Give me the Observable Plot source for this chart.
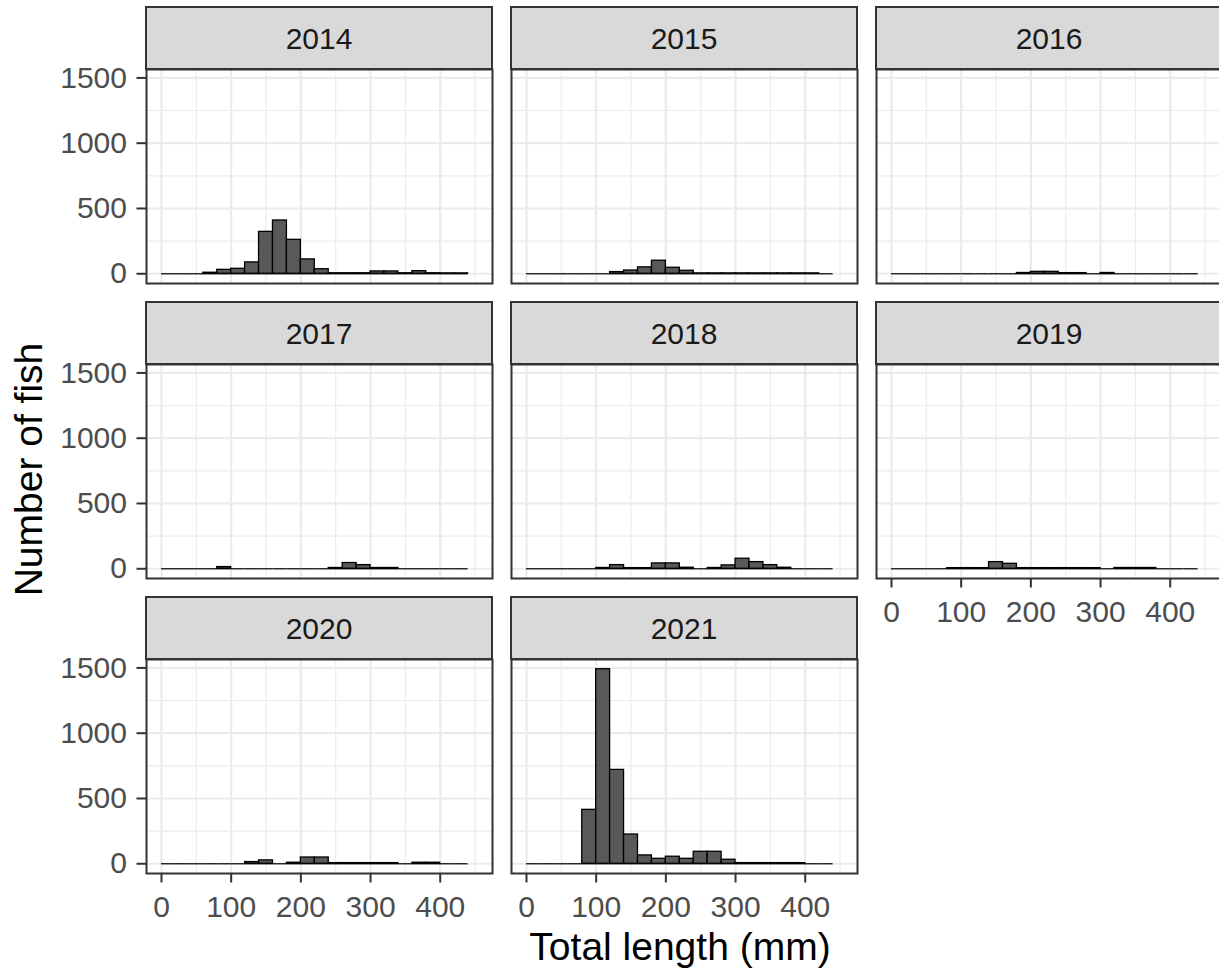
<!DOCTYPE html>
<html>
<head>
<meta charset="utf-8">
<script src="https://cdn.jsdelivr.net/npm/d3@7"></script>
<script src="https://cdn.jsdelivr.net/npm/@observablehq/plot@0.6"></script>
<style>
  html, body { margin: 0; padding: 0; background: #ffffff; overflow: hidden; }
  #chart { position: relative; width: 1219px; height: 974px; overflow: hidden; font-family: "Liberation Sans", Arial, sans-serif; }
  .strip { position: absolute; box-sizing: border-box; background: #D9D9D9; border: 2px solid #333333;
           display: flex; align-items: center; justify-content: center; font-size: 30px; color: #1A1A1A; padding-top: 2px; }
  .title { position: absolute; font-size: 39px; line-height: 39px; color: #000000; white-space: nowrap; text-align: center; }
</style>
</head>
<body>
<div id="chart"></div>
<script>
// ---- data ----
const years = ["2014", "2015", "2016", "2017", "2018", "2019", "2020", "2021"];
const binEdges = [0, 20, 40, 60, 80, 100, 120, 140, 160, 180, 200, 220, 240, 260, 280, 300, 320, 340, 360, 380, 400, 420, 440];
const counts2014 = [0, 0, 0, 8, 30, 38, 87, 321, 408, 260, 110, 35, 4, 4, 4, 18, 18, 4, 20, 4, 3, 3];
const counts2015 = [0, 0, 0, 0, 0, 0, 13, 25, 49, 100, 46, 23, 3, 3, 3, 3, 3, 3, 3, 3, 3, 0];
const counts2016 = [0, 0, 0, 0, 0, 0, 0, 0, 0, 6, 15, 15, 5, 5, 0, 6, 0, 0, 0, 0, 0, 0];
const counts2017 = [0, 0, 0, 0, 13, 0, 0, 0, 0, 0, 0, 0, 6, 44, 28, 6, 6, 0, 0, 0, 0, 0];
const counts2018 = [0, 0, 0, 0, 0, 6, 28, 5, 5, 41, 41, 8, 0, 6, 26, 77, 51, 28, 8, 0, 0, 0];
const counts2019 = [0, 0, 0, 0, 5, 5, 5, 51, 38, 5, 5, 5, 5, 5, 5, 0, 6, 6, 6, 0, 0, 0];
const counts2020 = [0, 0, 0, 0, 0, 0, 13, 26, 0, 8, 48, 48, 5, 5, 5, 5, 5, 0, 8, 8, 0, 0];
const counts2021 = [0, 0, 0, 0, 413, 1490, 719, 224, 64, 38, 54, 38, 92, 92, 31, 5, 5, 5, 5, 5, 0, 0];
const countsByYear = [counts2014, counts2015, counts2016, counts2017, counts2018, counts2019, counts2020, counts2021];

const xTicks = [0, 100, 200, 300, 400];
const xMinor = [50, 150, 250, 350, 450];
const yTicks = [0, 500, 1000, 1500];
const yMinor = [250, 750, 1250];
const xDomain = [-21.5, 475];
const yDomain = [-74.5, 1564.5];

const xTitle = "Total length (mm)";
const yTitle = "Number of fish";

// ---- layout ----
const colLeft = [146, 511, 876];
const rowTop = [7, 302, 597];
const PW = 346, PH = 214, SH = 62;
const ML = 80, MR = 3, MT = 3, MB = 60;
const FONT = '"Liberation Sans", Arial, sans-serif';

const chart = document.getElementById("chart");

function panel(counts, showX, showY) {
  const bins = counts.map((n, i) => ({x1: binEdges[i], x2: binEdges[i + 1], n}));
  const tickStyle = {tickSize: 9.5, fontSize: 30, stroke: "#333333", fill: "#4D4D4D", strokeWidth: 2,
                     tickFormat: d => `${d}`, label: null};
  return Plot.plot({
    width: ML + PW + MR,
    height: MT + PH + MB,
    marginLeft: ML, marginRight: MR, marginTop: MT, marginBottom: MB,
    x: {domain: xDomain, axis: null},
    y: {domain: yDomain, axis: null},
    style: {fontFamily: FONT, background: "transparent", overflow: "visible"},
    marks: [
      Plot.ruleX(xMinor, {stroke: "#EBEBEB", strokeWidth: 1.1}),
      Plot.ruleY(yMinor, {stroke: "#EBEBEB", strokeWidth: 1.1}),
      Plot.ruleX(xTicks, {stroke: "#EBEBEB", strokeWidth: 2.2}),
      Plot.ruleY(yTicks, {stroke: "#EBEBEB", strokeWidth: 2.2}),
      Plot.ruleY(bins, {x1: "x1", x2: "x2", y: () => 0, stroke: "#000000", strokeWidth: 1.2}),
      Plot.rect(bins.filter(d => d.n > 0), {x1: "x1", x2: "x2", y1: () => 0, y2: "n",
        fill: "#595959", stroke: "#000000", strokeWidth: 1.3}),
      Plot.frame({stroke: "#333333", strokeWidth: 2}),
      showY ? Plot.axisY(yTicks, {...tickStyle, tickPadding: 10}) : null,
      showX ? Plot.axisX(xTicks, {...tickStyle, tickPadding: 13}) : null
    ]
  });
}

countsByYear.forEach((counts, i) => {
  const col = i % 3, row = Math.floor(i / 3);
  const below = i + 3 < years.length;
  const left = colLeft[col], top = rowTop[row];
  // strip
  const strip = document.createElement("div");
  strip.className = "strip";
  strip.style.left = (left - 1) + "px";
  strip.style.top = (top - 1) + "px";
  strip.style.width = (PW + 2) + "px";
  strip.style.height = (SH + 2) + "px";
  strip.textContent = years[i];
  chart.appendChild(strip);
  // panel
  const svg = panel(counts, !below, col === 0);
  svg.style.position = "absolute";
  svg.style.left = (left - ML) + "px";
  svg.style.top = (top + SH - MT) + "px";
  svg.style.maxWidth = "none";
  chart.appendChild(svg);
});

// axis titles
const xt = document.createElement("div");
xt.className = "title";
xt.textContent = xTitle;
xt.style.width = "500px";
xt.style.left = (680 - 250) + "px";
xt.style.top = (960 - 33) + "px";
chart.appendChild(xt);

const yt = document.createElement("div");
yt.className = "title";
yt.textContent = yTitle;
yt.style.width = "400px";
yt.style.height = "39px";
yt.style.left = (28 - 200) + "px";
yt.style.top = (469 - 19.5) + "px";
yt.style.transform = "rotate(-90deg)";
yt.style.transformOrigin = "50% 50%";
chart.appendChild(yt);
</script>
</body>
</html>
